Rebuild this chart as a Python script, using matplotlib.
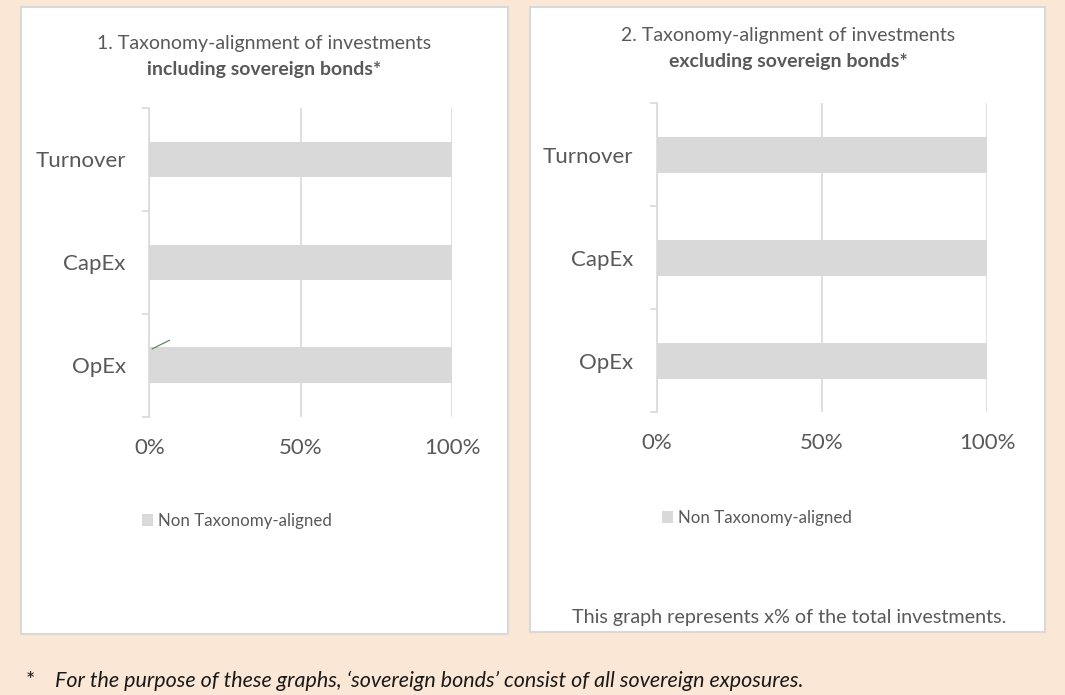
import numpy as np
import matplotlib
matplotlib.use("Agg")
import matplotlib.pyplot as plt
from matplotlib.patches import Rectangle

# data
categories = ["Turnover", "CapEx", "OpEx"]
non_aligned_incl = [1.0, 1.0, 1.0]
non_aligned_excl = [1.0, 1.0, 1.0]
x_ticks = [0, 0.5, 1.0]
x_tick_labels = ["0%", "50%", "100%"]
series_label = "Non Taxonomy-aligned"
titles = [("1. Taxonomy-alignment of investments", "including sovereign bonds*"),
          ("2. Taxonomy-alignment of investments", "excluding sovereign bonds*")]
note_text = "This graph represents x% of the total investments."
footnote = "For the purpose of these graphs, \u2018sovereign bonds\u2019 consist of all sovereign exposures."

W, H = 1065, 695
BG = "#FAE7D6"
GREY = "#D9D9D9"
TXT = "#595959"
plt.rcParams["font.family"] = ["Lato", "DejaVu Sans"]

fig = plt.figure(figsize=(W / 100, H / 100), dpi=100)
fig.patch.set_facecolor(BG)


def fx(x):
    return x / W


def fy(y):
    return 1 - y / H


def panel_box(x0, y0, x1, y1):
    r = Rectangle((fx(x0), fy(y1)), fx(x1) - fx(x0), fy(y0) - fy(y1),
                  transform=fig.transFigure, facecolor="white",
                  edgecolor=GREY, lw=1.5, zorder=0)
    fig.add_artist(r)


def draw_panel(ax, values, title, tcx, ty1, ty2, leg_cx, leg_cy):
    bars = ax.barh(categories, values, height=0.345, color=GREY, label=series_label, zorder=2)
    ax.set_xlim(0, 1)
    ax.set_ylim(2.5, -0.5)
    ax.set_facecolor("none")
    for s in ["top", "right", "bottom"]:
        ax.spines[s].set_visible(False)
    ax.spines["left"].set_color(GREY)
    ax.spines["left"].set_linewidth(1.2)
    ax.set_xticks(x_ticks)
    ax.set_xticklabels(x_tick_labels)
    ax.xaxis.grid(True, color=GREY, lw=1.2, zorder=1)
    ax.set_axisbelow(True)
    ax.tick_params(axis="x", length=0, pad=15, labelsize=16, labelcolor=TXT)
    ax.tick_params(axis="y", which="major", length=0, pad=17, labelsize=16, labelcolor=TXT)
    ax.set_yticks([-0.5, 0.5, 1.5, 2.5], minor=True)
    ax.tick_params(axis="y", which="minor", length=5, width=1.2, color=GREY)
    fig.text(fx(tcx), fy(ty1), title[0], ha="center", va="center", fontsize=14, color=TXT)
    fig.text(fx(tcx), fy(ty2), title[1], ha="center", va="center", fontsize=14,
             color=TXT, fontweight="bold")
    ax.legend(handles=[bars], loc="center", bbox_to_anchor=(fx(leg_cx), fy(leg_cy)),
              bbox_transform=fig.transFigure, frameon=False, fontsize=12.2,
              labelcolor=TXT, handlelength=0.65, handleheight=0.65, handletextpad=0.3)
    return bars


panel_box(20.7, 7.3, 507.7, 634)
panel_box(530, 7.3, 1045, 632)

ax1 = fig.add_axes([fx(149.3), fy(416.7), fx(452) - fx(149.3), fy(108) - fy(416.7)])
ax2 = fig.add_axes([fx(656.7), fy(412.3), fx(987.3) - fx(656.7), fy(103.3) - fy(412.3)])

draw_panel(ax1, non_aligned_incl, titles[0], 264, 43, 70, 237, 521)
draw_panel(ax2, non_aligned_excl, titles[1], 788, 35, 62, 756.5, 518)

# small leftover leader line near OpEx in the first chart
ax1.plot([0.008, 0.068], [2 - 0.157, 2 - 0.245], color="#5B8A5B", lw=0.9, zorder=3,
         solid_capstyle="butt")

fig.text(fx(789), fy(618), note_text, ha="center", va="center", fontsize=14.2, color=TXT)

fig.text(fx(30), fy(681), "*", ha="center", va="center", fontsize=15.5, color="#1A1A1A")
fig.text(fx(55), fy(681), footnote, ha="left", va="center", fontsize=15.5,
         color="#1A1A1A", style="italic")

fig.savefig("out.png", dpi=100, facecolor=BG)
